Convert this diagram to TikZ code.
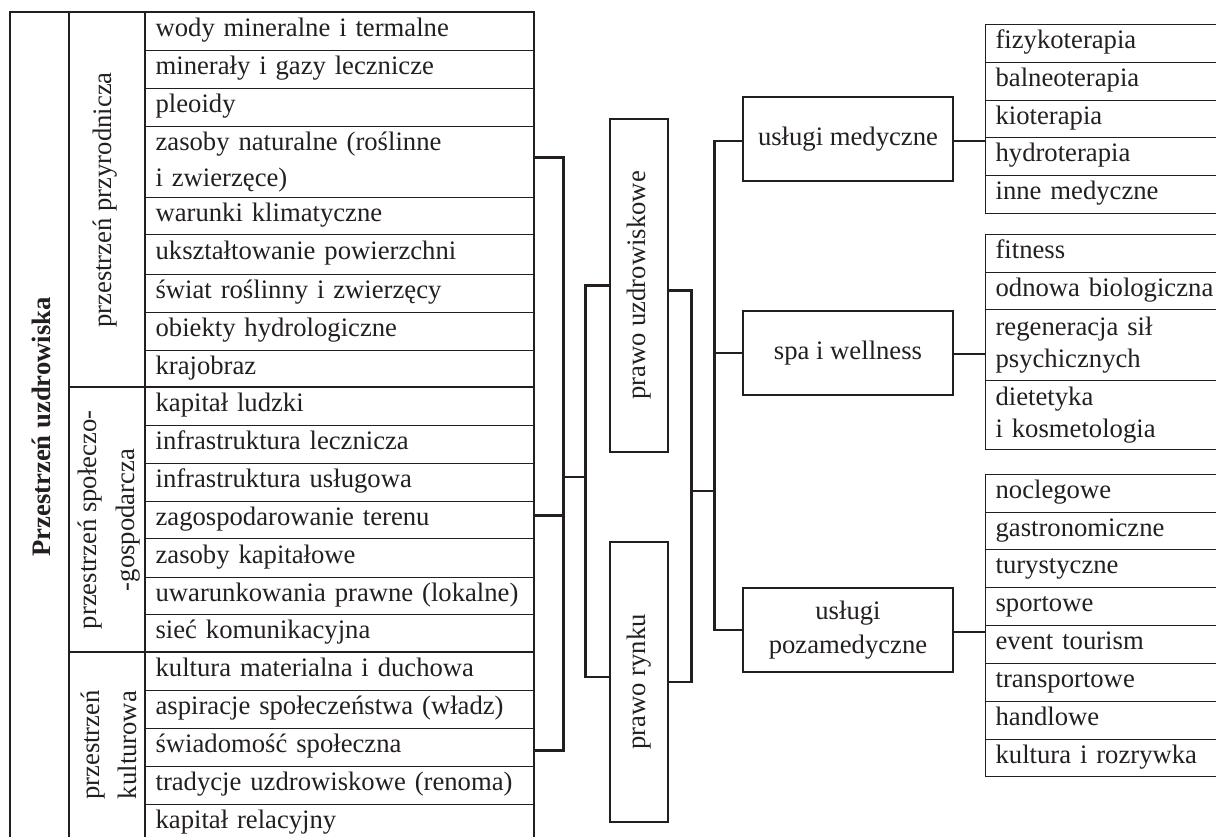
\documentclass[tikz,border=0pt]{standalone}
\usepackage{fontspec}
\usepackage{graphicx}
\setmainfont{Liberation Serif}
\definecolor{ink}{RGB}{35,31,32}
\begin{document}
\begin{tikzpicture}[x=0.75pt,y=-0.75pt,
  every node/.style={text=ink, font=\fontsize{20pt}{27pt}\selectfont},
  cell/.style={draw=ink, line width=0.9pt, anchor=north west, inner xsep=7.5pt, inner ysep=0pt, align=left, text width=276.75pt},
  lcell/.style={cell, text width=170.25pt, font=\fontsize{20pt}{24pt}\selectfont},
  one/.style={text height=13.5pt, text depth=6pt},
  box/.style={draw=ink, line width=1pt, inner sep=0pt, align=center},
  lab/.style={rotate=90, align=center, inner sep=0pt},
  frame/.style={draw=ink, line width=2.1pt},
  sep/.style={draw=ink, line width=1.6pt},
  conn/.style={draw=ink, line width=2.2pt}]
\useasboundingbox (0,0) rectangle (1216,837);
\clip (0,0) rectangle (1216,837);

% ---- left table, third column ----
\node[cell,one,minimum height=28.5pt]  (c1)  at (145,12)  {wody mineralne i termalne};
\node[cell,one,minimum height=28.5pt]  (c2)  at (145,50)  {minerały i gazy lecznicze};
\node[cell,one,minimum height=28.5pt]  (c3)  at (145,88)  {pleoidy};
\node[cell,minimum height=53.25pt]     (c4)  at (145,126) {zasoby naturalne (roślinne\\i zwierzęce)};
\node[cell,one,minimum height=27.75pt] (c5)  at (145,197) {warunki klimatyczne};
\node[cell,one,minimum height=30pt]    (c6)  at (145,234) {ukształtowanie powierzchni};
\node[cell,one,minimum height=28.5pt]  (c7)  at (145,274) {świat roślinny i zwierzęcy};
\node[cell,one,minimum height=28.5pt]  (c8)  at (145,312) {obiekty hydrologiczne};
\node[cell,one,minimum height=27.75pt] (c9)  at (145,350) {krajobraz};
\node[cell,one,minimum height=28.5pt]  (c10) at (145,387) {kapitał ludzki};
\node[cell,one,minimum height=28.5pt]  (c11) at (145,425) {infrastruktura lecznicza};
\node[cell,one,minimum height=28.5pt]  (c12) at (145,463) {infrastruktura usługowa};
\node[cell,one,minimum height=27.75pt] (c13) at (145,501) {zagospodarowanie terenu};
\node[cell,one,minimum height=29.25pt] (c14) at (145,538) {zasoby kapitałowe};
\node[cell,one,minimum height=27.75pt] (c15) at (145,577) {uwarunkowania prawne (lokalne)};
\node[cell,one,minimum height=28.5pt]  (c16) at (145,614) {sieć komunikacyjna};
\node[cell,one,minimum height=28.5pt]  (c17) at (145,652) {kultura materialna i duchowa};
\node[cell,one,minimum height=28.5pt]  (c18) at (145,690) {aspiracje społeczeństwa (władz)};
\node[cell,one,minimum height=28.5pt]  (c19) at (145,728) {świadomość społeczna};
\node[cell,one,minimum height=28.5pt]  (c20) at (145,766) {tradycje uzdrowiskowe (renoma)};
\node[cell,one,minimum height=28.5pt]  (c21) at (145,804) {kapitał relacyjny};

% ---- frame of left table ----
\draw[frame] (10,12) rectangle (534,850);
\draw[sep] (69,12) -- (69,850);
\draw[draw=ink, line width=1pt] (145,12) -- (145,850);
\draw[sep] (69,387) -- (534,387);
\draw[sep] (69,652) -- (534,652);
\draw[frame] (534,12) -- (534,850);

\node[lab, font=\fontsize{20pt}{24pt}\selectfont\bfseries] (t0) at (41,427) {Przestrzeń uzdrowiska};
\node[lab] (t1) at (105,200) {przestrzeń przyrodnicza};
\node[lab, font=\fontsize{20pt}{28pt}\selectfont] (t2) at (109,520) {przestrzeń społeczo-\\-gospodarcza};
\node[lab, font=\fontsize{20pt}{28pt}\selectfont] (t3) at (109,745) {przestrzeń\\kulturowa};

% ---- middle boxes ----
\node[box, minimum width=43.5pt, minimum height=249.75pt] (pu) at (639,285.5) {\rotatebox{90}{prawo uzdrowiskowe}};
\node[box, minimum width=43.5pt, minimum height=210pt] (pr) at (639,682) {\rotatebox{90}{prawo rynku}};
\node[box, minimum width=157.5pt, minimum height=63pt] (um) at (848,139) {usługi medyczne};
\node[box, minimum width=157.5pt, minimum height=63pt] (sw) at (848,353) {spa i wellness};
\node[box, minimum width=157.5pt, minimum height=63pt, font=\fontsize{20pt}{25pt}\selectfont] (upm) at (848,630) {usługi\\pozamedyczne};

% ---- right lists ----
\node[lcell,one,minimum height=28.5pt]  (m1) at (985,24)  {fizykoterapia};
\node[lcell,one,minimum height=28.5pt]  (m2) at (985,62)  {balneoterapia};
\node[lcell,one,minimum height=27.75pt] (m3) at (985,100) {kioterapia};
\node[lcell,one,minimum height=28.5pt]  (m4) at (985,137) {hydroterapia};
\node[lcell,one,minimum height=28.5pt]  (m5) at (985,175) {inne medyczne};

\node[lcell,one,minimum height=28.5pt]  (s1) at (985,234) {fitness};
\node[lcell,one,minimum height=27.75pt] (s2) at (985,272) {odnowa biologiczna};
\node[lcell,minimum height=53.25pt]     (s3) at (985,309) {regeneracja sił\\psychicznych};
\node[lcell,minimum height=51.75pt]     (s4) at (985,380) {dietetyka\\i kosmetologia};

\node[lcell,one,minimum height=28.5pt]  (p1) at (985,474) {noclegowe};
\node[lcell,one,minimum height=27.75pt] (p2) at (985,512) {gastronomiczne};
\node[lcell,one,minimum height=28.5pt]  (p3) at (985,549) {turystyczne};
\node[lcell,one,minimum height=28.5pt]  (p4) at (985,587) {sportowe};
\node[lcell,one,minimum height=28.5pt]  (p5) at (985,625) {event tourism};
\node[lcell,one,minimum height=28.5pt]  (p6) at (985,663) {transportowe};
\node[lcell,one,minimum height=28.5pt]  (p7) at (985,701) {handlowe};
\node[lcell,one,minimum height=27.75pt] (p8) at (985,739) {kultura i rozrywka};

% ---- connectors ----
\coordinate (jA) at (562,477);
\coordinate (jB) at (586,477);
\coordinate (jC) at (691,491);
\coordinate (jD) at (715,491);

\draw[conn] ([yshift=3.4pt]c4.east) -- ++(28,0) |- ([yshift=-2.25pt]c19.east);
\draw[conn] ([yshift=3.4pt]c13.east) -- ++(28,0);
\draw[conn] (jA) -- (jB);

\draw[conn] (pu.west) -- ++(-24,0) |- ([yshift=3.75pt]pr.west);
\draw[conn] ([yshift=-3.75pt]pu.east) -- ++(23,0) |- (pr.east);
\draw[conn] (jC) -- (jD);

\draw[conn] ([yshift=-1.5pt]um.west) -- ++(-28,0) |- (upm.west);
\draw[conn] (sw.west) -- ++(-28,0);

\draw[conn] ([yshift=-1.5pt]um.east) -- ([yshift=-1.5pt]um.east -| m1.west);
\draw[conn] ([yshift=-0.75pt]sw.east) -- ([yshift=-0.75pt]sw.east -| s1.west);
\draw[conn] ([yshift=-1.5pt]upm.east) -- ([yshift=-1.5pt]upm.east -| p1.west);
\end{tikzpicture}
\end{document}
